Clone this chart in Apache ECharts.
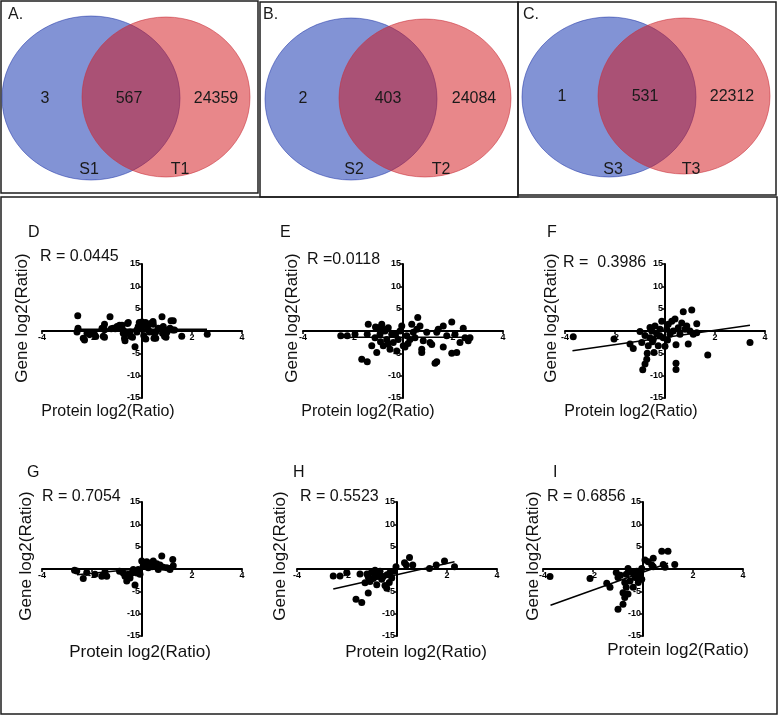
<!DOCTYPE html>
<html><head><meta charset="utf-8">
<script src="https://cdn.jsdelivr.net/npm/echarts@6/dist/echarts.min.js"></script>
<style>html,body{margin:0;padding:0;background:#fff}#c{width:778px;height:716px}</style>
</head><body><div id="c"></div>
<script>
// ---------- DATA ----------
var vennLabels = [['S1','T1'],['S2','T2'],['S3','T3']];
var vennOnlyS = [3, 2, 1];
var vennBoth = [567, 403, 531];
var vennOnlyT = [24359, 24084, 22312];
var panelLetters = ['D','E','F','G','H','I'];
var rValues = ['R = 0.0445','R =0.0118','R =  0.3986','R = 0.7054','R = 0.5523','R = 0.6856'];
var xTicks = [-4,-2,0,2,4];
var yTicks = [-15,-10,-5,0,5,10,15];

var pointsD = [[-2.57,3.4],[-2.56,0.6],[-2.6,-0.2],[-2.35,-1.6],[-2.3,-2.0],[-2.2,-0.5],[-2.1,-0.8],[-1.9,-0.8],[-1.85,-1.25],
 [-1.6,0.6],[-1.55,-1.2],[-1.5,1.5],[-1.5,0.3],[-1.5,-1.4],[-1.28,3.2],[-1.23,0.5],[-1.15,0.6],[-1.07,0.5],[-1.0,1.0],[-0.9,1.3],
 [-0.8,1.3],[-0.75,-0.5],[-0.75,0.15],[-0.7,-1.6],[-0.68,-2.2],[-0.58,1.7],[-0.55,1.9],[-0.55,-0.5],[-0.48,-0.2],[-0.45,-1.2],
 [-0.38,-1.4],[-0.28,-3.5],[-0.2,-0.2],[-0.2,0.3],[-0.15,1.0],[-0.11,1.9],[-0.08,1.7],[0.0,2.0],[0.0,1.1],[0.07,-1.0],[0.14,1.9],
 [0.15,-1.8],[0.2,1.0],[0.25,0.3],[0.3,-0.2],[0.34,1.7],[0.44,2.1],[0.45,1.5],[0.5,-0.5],[0.48,-1.6],[0.55,-1.6],[0.55,-0.2],
 [0.65,0.6],[0.66,0.5],[0.8,3.2],[0.82,-0.5],[0.85,1.0],[0.9,0.3],[0.9,-1.2],[0.96,-1.4],[1.0,-0.2],[1.12,0.6],[1.16,2.3],
 [1.25,2.3],[1.23,0.2],[1.3,0.2],[1.59,-1.2],[2.61,-0.7]];
var pointsE = [[-2.49,-1.05],[-2.23,-1.05],[-1.92,-0.7],[-1.43,-0.7],[-1.39,1.5],[-1.65,-6.3],[-1.43,-6.9],[-1.25,-3.3],[-1.12,-1.5],
 [-1.05,-4.8],[-0.99,0.7],[-0.92,-0.7],[-0.85,1.5],[-0.79,-3.3],[-0.72,0.0],[-0.65,-1.9],[-0.59,0.7],[-0.52,-4.1],[-0.45,-0.7],
 [-0.39,-2.6],[-0.25,-4.5],[-0.19,-1.9],[-0.12,0.0],[-0.05,1.1],[0.01,-3.3],[0.08,-3.6],[0.15,-1.05],[0.28,-1.9],[0.35,1.5],
 [0.41,-0.3],[0.48,-1.5],[0.55,0.4],[0.59,3.0],[0.68,1.1],[0.75,-4.1],[0.75,-4.8],[0.81,-2.2],[0.95,-0.3],[1.08,-2.6],[1.15,-3.0],
 [1.28,-7.2],[1.35,-6.9],[1.35,-0.3],[1.41,0.4],[1.61,1.1],[1.61,-3.6],[1.75,-1.05],[1.95,2.0],[1.95,-5.0],[2.15,-4.8],[2.08,-0.7],
 [2.28,-2.6],[2.41,0.6],[2.48,-1.5],[2.68,-1.5],[2.61,-2.2],[-0.9,-2.4],[-0.6,-2.9],[-0.3,-0.9],[0.2,-2.8],[-1.1,0.9],[-0.8,0.4]];
var pointsF = [[-3.67,-1.3],[-2.04,-1.8],[-1.4,-2.9],[-1.27,-3.9],[-1.0,-0.1],[-0.93,-2.6],[-0.89,-8.7],[-0.8,-7.4],[-0.73,-6.3],
 [-0.71,-5.0],[-0.67,-3.3],[-0.6,-1.5],[-0.53,0.0],[-0.47,-1.9],[-0.44,-4.8],[-0.4,1.1],[-0.33,-0.7],[-0.27,-3.3],[-0.2,0.4],
 [-0.13,2.2],[-0.07,-1.5],[0.0,-3.4],[0.07,0.4],[0.13,1.5],[0.2,-0.7],[0.27,2.2],[0.33,0.0],[0.4,2.7],[0.44,-3.1],[0.44,-7.2],
 [0.44,-8.6],[0.53,0.7],[0.6,-0.7],[0.67,1.8],[0.73,4.3],[0.8,0.4],[0.87,1.1],[0.93,-2.9],[1.0,0.0],[1.07,4.7],[1.13,-0.7],
 [1.27,1.6],[1.27,-0.4],[1.71,-5.4],[3.4,-2.6],[-0.8,-1.0],[-0.5,-2.4],[-0.2,-1.1],[0.1,-2.0],[-0.6,0.8]];
var pointsG = [[-2.61,-0.45],[-2.35,-2.1],[-2.21,-0.8],[-1.88,-1.2],[-1.61,-1.6],[-1.48,-0.6],[-1.41,-1.6],[-0.75,-0.9],[-0.68,-1.6],
 [-0.61,-2.7],[-0.55,-1.2],[-0.48,-2.0],[-0.41,-0.9],[-0.35,-0.1],[-0.28,-3.6],[-0.21,-0.9],[-0.15,-0.1],[-0.08,-1.2],[-0.01,1.8],
 [0.05,0.7],[0.19,1.6],[0.25,0.3],[0.32,1.3],[0.45,1.8],[0.52,0.7],[0.59,1.2],[0.65,-0.1],[0.72,0.9],[0.79,2.9],[0.85,0.4],
 [0.99,0.3],[1.12,-0.1],[1.23,2.1],[1.25,0.7],[-2.7,-0.3],[-0.9,-0.5],[0.4,0.5]];
var pointsH = [[-2.55,-1.57],[-2.28,-1.57],[-2.01,-0.8],[-1.48,-1.1],[-1.64,-6.8],[-1.41,-7.5],[-1.28,-3.1],[-1.15,-1.8],[-1.15,-5.4],
 [-1.08,-2.8],[-1.01,-0.6],[-0.95,-2.1],[-0.88,-0.3],[-0.81,-3.5],[-0.75,-1.6],[-0.68,-0.5],[-0.61,-2.3],[-0.55,-1.7],[-0.48,-3.7],
 [-0.41,-4.3],[-0.31,-3.0],[-0.28,-0.8],[-0.21,-2.0],[-0.15,-0.5],[-0.04,0.5],[0.3,1.4],[0.37,0.9],[0.5,2.6],[0.63,0.9],[1.3,0.1],
 [1.57,0.9],[1.9,1.8],[2.3,0.5],[-1.2,-1.1],[-0.9,-1.3],[-0.4,-1.3]];
var pointsI = [[-3.72,-1.7],[-2.12,-2.1],[-1.45,-3.2],[-1.32,-4.1],[-1.07,-0.8],[-1.0,-1.9],[-1.0,-9.0],[-0.8,-7.9],[-0.73,-6.4],
 [-0.8,-5.3],[-0.67,-4.1],[-0.6,-5.6],[-0.73,-3.0],[-0.67,-1.2],[-0.6,0.1],[-0.52,-2.7],[-0.45,-0.8],[-0.39,-4.1],[-0.32,-1.9],
 [-0.25,-0.5],[-0.19,-3.0],[-0.12,-1.2],[-0.05,0.1],[-0.05,-2.3],[0.08,2.0],[0.21,1.6],[0.35,0.9],[0.41,2.4],[0.41,0.5],[0.75,4.0],
 [1.0,4.0],[0.81,1.0],[0.88,0.4],[1.27,1.0],[-0.9,-1.4],[-0.35,-1.0],[-0.2,-2.0]];
var linesD = [[-2.7,0.4],[2.6,0.4]];
var linesE = [[-2.5,-1.4],[2.7,-1.4]];
var linesF = [[-3.7,-4.4],[3.4,1.3]];
var linesG = [[-2.6,-1.3],[1.2,0.8]];
var linesH = [[-2.55,-4.5],[2.3,1.6]];
var linesI = [[-3.7,-8.1],[1.0,1.3]];

var allPoints = [pointsD,pointsE,pointsF,pointsG,pointsH,pointsI];
var allLines = [linesD,linesE,linesF,linesG,linesH,linesI];

// ---------- LAYOUT ----------
var FONT = '"Liberation Sans", Arial, sans-serif';
var grids = [
  {left:42, top:264, width:200, height:134},
  {left:303, top:264, width:200, height:134},
  {left:565, top:264, width:200, height:134},
  {left:42, top:502, width:200, height:134},
  {left:297, top:502, width:200, height:134},
  {left:543, top:502, width:200, height:134}
];
var letterPos = [[28,233],[280,233],[547,233],[27,473],[293,473],[553,473]];
var rPos = [[40,257],[307,260],[563,263],[42,497],[300,497],[547,497]];
var yTitlePos = [[22,318],[292,318],[551,318],[26,556],[280,556],[533,556]];
var xTitlePos = [[108,412],[368,412],[631,412],[140,652],[416,652],[678,650]];

var axisLabelStyle = {fontSize:9, fontWeight:'bold', color:'#000', fontFamily:FONT};
function hideZero(v){ return v === 0 ? '' : String(v); }
var xAxes = [], yAxes = [], series = [];
grids.forEach(function(g, i){
  xAxes.push({gridIndex:i, type:'value', position:'bottom', offset:-g.height/2,
    min:xTicks[0], max:xTicks[xTicks.length-1], interval:2,
    axisLine:{onZero:false, lineStyle:{color:'#000', width:2}},
    axisTick:{length:3, lineStyle:{color:'#000', width:1.5}},
    splitLine:{show:false},
    axisLabel:Object.assign({margin:2, formatter:hideZero}, axisLabelStyle)});
  yAxes.push({gridIndex:i, type:'value', position:'left', offset:-g.width/2,
    min:yTicks[0], max:yTicks[yTicks.length-1], interval:5,
    axisLine:{onZero:false, lineStyle:{color:'#000', width:2}},
    axisTick:{length:3, lineStyle:{color:'#000', width:1.5}},
    splitLine:{show:false},
    axisLabel:Object.assign({margin:2, formatter:hideZero}, axisLabelStyle)});
  series.push({type:'scatter', xAxisIndex:i, yAxisIndex:i, data:allPoints[i], symbolSize:7,
    itemStyle:{color:'#000', opacity:1}, silent:true, z:3});
  series.push({type:'line', xAxisIndex:i, yAxisIndex:i, data:allLines[i], symbol:'none',
    lineStyle:{color:'#000', width:1.5}, silent:true, z:4});
});

// ---------- GRAPHICS (Venn + frames + texts) ----------
var g = [];
var boxes = [[1,1,257,192],[260,2,258,195],[518,2,258,193],[1,197,776,517]];
boxes.forEach(function(b){
  g.push({type:'rect', shape:{x:b[0],y:b[1],width:b[2],height:b[3]}, style:{fill:null, stroke:'#1e1e1e', lineWidth:1.5}, z:1});
});
var vennGeo = [
  {blue:[91,98,89,82], red:[166,97,84,80], letter:[8,15,'A.'], nums:[45,129,216], sets:[89,180], ny:99, sy:170},
  {blue:[351,99,86,81], red:[425,98,86,79], letter:[263,15,'B.'], nums:[303,388,474], sets:[354,441], ny:99, sy:170},
  {blue:[609,97,87,80], red:[684,96,86,78], letter:[523,15,'C.'], nums:[562,645,732], sets:[613,691], ny:97, sy:170}
];
vennGeo.forEach(function(v, i){
  g.push({type:'ellipse', shape:{cx:v.blue[0],cy:v.blue[1],rx:v.blue[2],ry:v.blue[3]},
    style:{fill:'rgba(5,39,171,0.5)', stroke:'rgba(40,60,170,0.55)', lineWidth:1}, z:2});
  g.push({type:'ellipse', shape:{cx:v.red[0],cy:v.red[1],rx:v.red[2],ry:v.red[3]},
    style:{fill:'rgba(209,15,21,0.5)', stroke:'rgba(200,50,60,0.55)', lineWidth:1}, z:3});
  var txt = function(t, x, y, align){
    g.push({type:'text', x:x, y:y, style:{text:t, fill:'#1a1a1a', font:'16px '+FONT, textAlign:align||'center', textVerticalAlign:'middle'}, z:5});
  };
  txt(v.letter[2], v.letter[0], v.letter[1], 'left');
  txt(String(vennOnlyS[i]), v.nums[0], v.ny);
  txt(String(vennBoth[i]), v.nums[1], v.ny);
  txt(String(vennOnlyT[i]), v.nums[2], v.ny);
  txt(vennLabels[i][0], v.sets[0], v.sy);
  txt(vennLabels[i][1], v.sets[1], v.sy);
});
panelLetters.forEach(function(L, i){
  g.push({type:'text', x:letterPos[i][0], y:letterPos[i][1], style:{text:L, fill:'#111', font:'16px '+FONT, textAlign:'left', textVerticalAlign:'middle'}, z:5});
  g.push({type:'text', x:rPos[i][0], y:rPos[i][1], style:{text:rValues[i], fill:'#111', font:'16px '+FONT, textAlign:'left', textVerticalAlign:'middle'}, z:5});
  g.push({type:'text', x:yTitlePos[i][0], y:yTitlePos[i][1], rotation:Math.PI/2, style:{text:'Gene log2(Ratio)', fill:'#111', font:'17px '+FONT, textAlign:'center', textVerticalAlign:'middle'}, z:5});
  g.push({type:'text', x:xTitlePos[i][0], y:xTitlePos[i][1], style:{text:'Protein log2(Ratio)', fill:'#111', font:(i<3?'16px ':'17px ')+FONT, textAlign:'center', textVerticalAlign:'middle'}, z:5});
});

var chart = echarts.init(document.getElementById('c'), null, {renderer:'canvas'});
chart.setOption({
  animation:false,
  backgroundColor:'#fff',
  grid:grids,
  xAxis:xAxes,
  yAxis:yAxes,
  series:series,
  graphic:{elements:g}
});
</script></body></html>
